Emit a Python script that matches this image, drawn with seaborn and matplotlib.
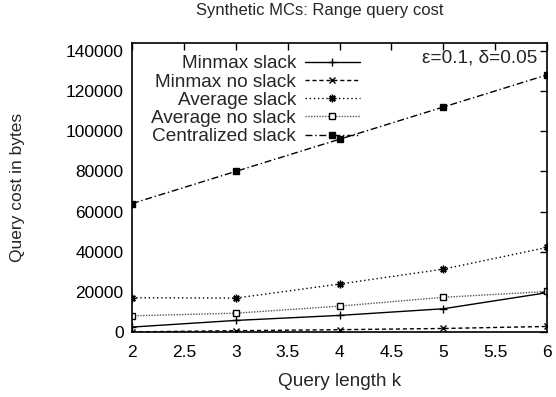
import matplotlib
matplotlib.use("Agg")
import matplotlib.pyplot as plt
import seaborn as sns
import numpy as np

ks = [2, 3, 4, 5, 6]
minmax_slack = [2600, 5900, 8400, 11700, 19700]
minmax_noslack = [200, 800, 1300, 1900, 2900]
avg_slack = [17200, 17000, 24000, 31400, 42200]
avg_noslack = [8200, 9500, 13000, 17400, 20300]
central_slack = [64000, 80000, 96000, 112000, 128000]

labels = ["Minmax slack", "Minmax no slack", "Average slack",
          "Average no slack", "Centralized slack"]
xticks = [2, 2.5, 3, 3.5, 4, 4.5, 5, 5.5, 6]
yticks = [0, 20000, 40000, 60000, 80000, 100000, 120000, 140000]

sns.set_style("white")
plt.rcParams['font.family'] = ['Liberation Sans', 'DejaVu Sans']

fig = plt.figure(figsize=(5.56, 3.97), dpi=100)
ax = fig.add_axes([132/556, 1-332.3/397, (547-132)/556, (332.3-42.7)/397])

styles = [
    dict(linestyle='-', marker='+', markersize=5.5, color='black'),
    dict(linestyle=(0, (3, 2)), marker='x', markersize=4, color='black'),
    dict(linestyle=(0, (1, 2)), marker=(8, 2, 0), markersize=5.5, color='black'),
    dict(linestyle=(0, (1, 1)), marker='s', markersize=4, color='#555555',
         markerfacecolor='white'),
    dict(linestyle=(0, (5, 2, 1, 2)), marker='s', markersize=4.5, color='black',
         markerfacecolor='black'),
]
series = [minmax_slack, minmax_noslack, avg_slack, avg_noslack, central_slack]
for vals, lab, st in zip(series, labels, styles):
    sns.lineplot(x=ks, y=vals, ax=ax, label=lab, linewidth=1.0,
                 markeredgecolor='black', markeredgewidth=1.0, **st)

ax.set_xlim(2, 6)
ax.set_ylim(0, 144000)
ax.set_xticks(xticks)
ax.set_xticklabels([f"{t:g}" for t in xticks])
ax.set_yticks(yticks)
ax.set_yticklabels([str(t) for t in yticks])
ax.tick_params(direction='in', length=5, width=1, top=True, right=True,
               labelsize=12.5, colors='black')
ax.tick_params(axis='x', pad=9)
ax.tick_params(axis='y', pad=6)
for s in ax.spines.values():
    s.set_visible(True)
    s.set_color('black')
    s.set_linewidth(1.2)

ax.set_xlabel("Query length k", fontsize=13.7)
ax.xaxis.set_label_coords(0.5, 1 - (381.7 - 42.7) / 289.6)
ax.xaxis.label.set_va('center')
ax.set_ylabel("Query cost in bytes", fontsize=12.5)
ax.yaxis.set_label_coords((18 - 132) / 415, 0.5)
ax.yaxis.label.set_va('center')

fig.text(320/556, 1-11/397, "Synthetic MCs: Range query cost", fontsize=12,
         ha='center', va='center')

leg = ax.legend(loc='upper right', bbox_to_anchor=((360-132)/415, (332.3-55)/289.6),
                markerfirst=False, frameon=False, fontsize=13.7, handlelength=2.9,
                handletextpad=0.47, labelspacing=0.05, borderpad=0.0,
                borderaxespad=0.0)

ax.text((537-132)/415, (332.3-58)/289.6, "ε=0.1, δ=0.05", transform=ax.transAxes,
        ha='right', va='center', fontsize=13.7)

fig.savefig("out.png", dpi=100)
